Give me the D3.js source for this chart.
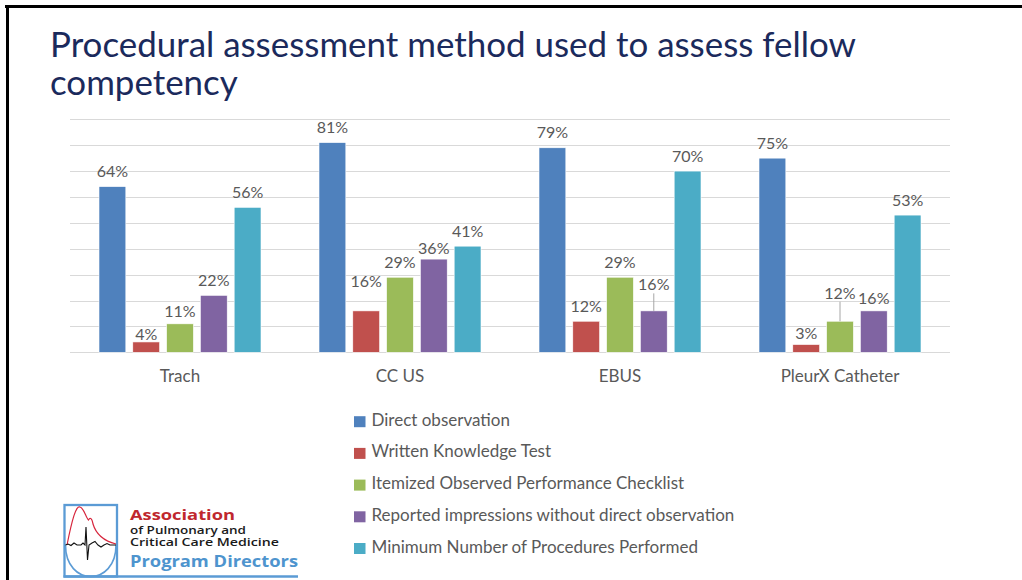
<!DOCTYPE html>
<html lang="en">
<head>
    <meta charset="utf-8">
    <style>
     body{
        margin: 0;
        background-color: white;
     }
     svg {
        background-color: white;
        font-family: 'Lato';
     }
     .grid line {
        stroke: #d9d9d9;
        stroke-width: 1px;
     }
     .value-label, .cat-label, .legend text {
        fill: #595959;
     }
     .leader {
        stroke: #a6a6a6;
        stroke-width: 1px;
     }
    </style>
</head>
<body>
    <svg width=1022 height=580></svg>
    <script src="https://d3js.org/d3.v7.min.js"></script>

    <script>
    // values (percent of programs)
    var categories = ["Trach", "CC US", "EBUS", "PleurX Catheter"];
    var seriesNames = [
      "Direct observation",
      "Written Knowledge Test",
      "Itemized Observed Performance Checklist",
      "Reported impressions without direct observation",
      "Minimum Number of Procedures Performed"
    ];
    var directObs   = [64, 81, 79, 75];
    var writtenTest = [4, 16, 12, 3];
    var checklist   = [11, 29, 29, 12];
    var impressions = [22, 36, 16, 16];
    var minNumber   = [56, 41, 70, 53];
    var gridTicks   = [0, 10, 20, 30, 40, 50, 60, 70, 80, 90];

    var colors = ["#4f81bd", "#c0504d", "#9bbb59", "#8064a2", "#4bacc6"];

    // hand-placed labels in the original (category, series, shift in px, leader line)
    var labelShift = [
      ["Trach", 1, 8, false],
      ["Trach", 2, 3, false],
      ["CC US", 1, -14, false],
      ["CC US", 3, 4, false],
      ["EBUS", 3, -11, true],
      ["PleurX Catheter", 1, 4, false],
      ["PleurX Catheter", 2, -13, true],
      ["PleurX Catheter", 3, 3, false]
    ];

    var allSeries = [directObs, writtenTest, checklist, impressions, minNumber];

    var svg = d3.select("svg");

    // slide frame (top and left edges only)
    svg.append("line").attr("x1", 5).attr("x2", 1022).attr("y1", 6.5).attr("y2", 6.5)
        .attr("stroke", "black").attr("stroke-width", 3);
    svg.append("line").attr("x1", 7.5).attr("x2", 7.5).attr("y1", 5).attr("y2", 580)
        .attr("stroke", "black").attr("stroke-width", 3);

    // title: size it so the first line spans the same width as on the slide
    var title = svg.append("text")
        .attr("fill", "#1b2a5c")
        .style("font-size", "30px");
    var t1 = title.append("tspan").attr("x", 50).attr("y", 57)
        .text("Procedural assessment method used to assess fellow");
    var natural = t1.node().getComputedTextLength();
    title.style("font-size", (30 * 806 / natural).toFixed(2) + "px");
    title.append("tspan").attr("x", 50).attr("y", 95)
        .text("competency");

    // scales
    var x0 = d3.scaleBand().domain(categories).range([70, 950]);
    var x1 = d3.scaleBand().domain(d3.range(seriesNames.length))
        .range([29, 191]).paddingInner(0.206);
    var y = d3.scaleLinear().domain([0, 90]).range([352.3, 119.3]);

    svg.append("g").attr("class", "grid")
      .selectAll("line")
      .data(gridTicks)
      .enter().append("line")
        .attr("x1", 70).attr("x2", 950)
        .attr("y1", d => Math.round(y(d)) + 0.5)
        .attr("y2", d => Math.round(y(d)) + 0.5);

    var rows = [];
    categories.forEach((c, ci) => {
      allSeries.forEach((s, si) => {
        rows.push({cat: c, si: si, value: s[ci]});
      });
    });

    svg.append("g").attr("class", "bars")
      .selectAll("rect")
      .data(rows)
      .enter().append("rect")
        .attr("x", d => x0(d.cat) + x1(d.si))
        .attr("width", x1.bandwidth())
        .attr("y", d => y(d.value))
        .attr("height", d => y(0) - y(d.value))
        .attr("fill", d => colors[d.si])
        .attr("stroke", "white")
        .attr("stroke-width", 0.6);

    function shiftFor(d) {
      var m = labelShift.find(r => r[0] === d.cat && r[1] === d.si);
      return m ? m : null;
    }

    svg.append("g").selectAll("text")
      .data(rows)
      .enter().append("text")
        .attr("class", "value-label")
        .attr("x", d => x0(d.cat) + x1(d.si) + x1.bandwidth() / 2)
        .attr("y", d => {
          var m = shiftFor(d);
          return y(d.value) - 9.5 + (m ? m[2] : 0);
        })
        .attr("text-anchor", "middle")
        .style("font-size", "16px")
        .text(d => d.value + "%");

    svg.append("g").selectAll("line")
      .data(rows.filter(d => { var m = shiftFor(d); return m && m[3]; }))
      .enter().append("line")
        .attr("class", "leader")
        .attr("x1", d => x0(d.cat) + x1(d.si) + x1.bandwidth() / 2)
        .attr("x2", d => x0(d.cat) + x1(d.si) + x1.bandwidth() / 2)
        .attr("y1", d => y(d.value) - 9.5 + shiftFor(d)[2] + 3)
        .attr("y2", d => y(d.value));

    svg.append("g").selectAll("text")
      .data(categories)
      .enter().append("text")
        .attr("class", "cat-label")
        .attr("x", d => x0(d) + x0.bandwidth() / 2)
        .attr("y", 381.5)
        .attr("text-anchor", "middle")
        .style("font-size", "17px")
        .text(d => d);

    // legend
    var legend = svg.append("g").attr("class", "legend")
      .selectAll("g")
      .data(seriesNames)
      .enter().append("g")
        .attr("transform", (d, i) => "translate(354," + (425.7 + i * 31.7) + ")");
    legend.append("rect")
        .attr("x", 0).attr("y", -9.5)
        .attr("width", 11.5).attr("height", 11)
        .attr("fill", (d, i) => colors[i]);
    legend.append("text")
        .attr("x", 17.5).attr("y", 0)
        .style("font-size", "17px")
        .text(d => d);

    // APCCMPD logo
    var logo = svg.append("g").attr("class", "logo");
    logo.append("rect").attr("x", 64.5).attr("y", 505).attr("width", 52.5).attr("height", 71.5)
        .attr("fill", "none").attr("stroke", "#5b9bd5").attr("stroke-width", 2.3);
    logo.append("line").attr("x1", 63.5).attr("x2", 298).attr("y1", 576.5).attr("y2", 576.5)
        .attr("stroke", "#5b9bd5").attr("stroke-width", 2.3);
    logo.append("path")
        .attr("d", "M65.5,545 C65.5,587 116,587 116,545")
        .attr("fill", "none").attr("stroke", "#5b9bd5").attr("stroke-width", 1.6);
    logo.append("path")
        .attr("d", "M67,545 C72,520 76,505 80,507 C84,508 86,518 88.5,520 C90,517 92,518 93,524 C96,534 104,541 116,544")
        .attr("fill", "none").attr("stroke", "#d7263d").attr("stroke-width", 1.2);
    logo.append("path")
        .attr("d", "M65.5,545 L68,544 L71,545.5 L74,543 L77,545 L81,545 L83,543 L85,545 L86,527 L87.5,560 L89,545 L92,543 L95,541.5 L98,545 L101,547 L104,545 L107,543.5 L110,545 L116,545")
        .attr("fill", "none").attr("stroke", "#111").attr("stroke-width", 1.1);

    var logoText = [
      ["Association", 520, "#c0272d", 15, 700, 105],
      ["of Pulmonary and", 533.5, "#1a1a1a", 11, 600, 116],
      ["Critical Care Medicine", 546, "#1a1a1a", 11, 600, 149],
      ["Program Directors", 566.5, "#4e94ce", 15.5, 700, 168]
    ];
    logo.selectAll("text")
      .data(logoText)
      .enter().append("text")
        .attr("x", 130)
        .attr("y", d => d[1])
        .attr("fill", d => d[2])
        .style("font-family", "'Open Sans'")
        .style("font-size", d => d[3] + "px")
        .style("font-weight", d => d[4])
        .attr("textLength", d => d[5])
        .attr("lengthAdjust", "spacingAndGlyphs")
        .text(d => d[0]);
    </script>
</body>
</html>
